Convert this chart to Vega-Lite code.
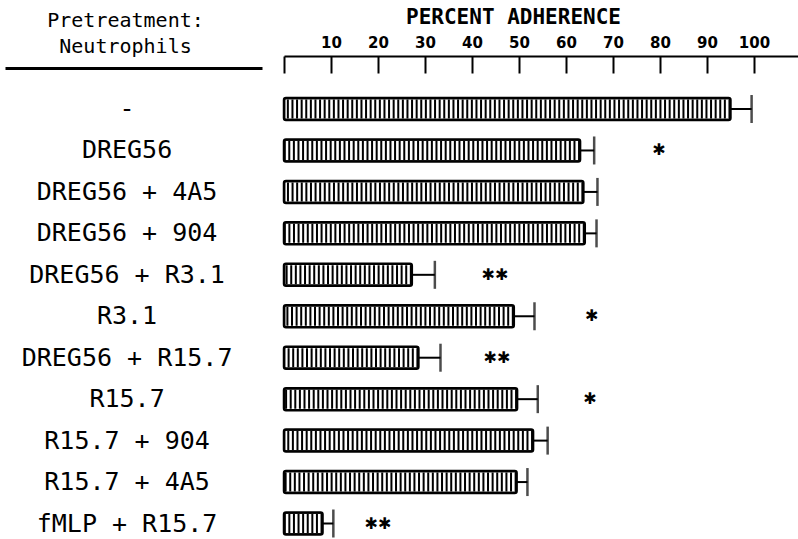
{
  "$schema": "https://vega.github.io/schema/vega-lite/v6.json",
  "padding": {"left": 5, "top": 6, "right": 0, "bottom": 0},
  "spacing": 12,
  "config": {"view": {"stroke": null}, "font": "DejaVu Sans Mono"},
  "data": {"values": [
    {"label": "-", "mean": 95.0, "upper": 99.5, "sig": null, "sigx": null},
    {"label": "DREG56", "mean": 63.0, "upper": 66.0, "sig": "✱", "sigx": 79.8},
    {"label": "DREG56 + 4A5", "mean": 63.7, "upper": 66.7, "sig": null, "sigx": null},
    {"label": "DREG56 + 904", "mean": 64.0, "upper": 66.5, "sig": null, "sigx": null},
    {"label": "DREG56 + R3.1", "mean": 27.2, "upper": 32.1, "sig": "✱✱", "sigx": 44.9},
    {"label": "R3.1", "mean": 48.9, "upper": 53.3, "sig": "✱", "sigx": 65.5},
    {"label": "DREG56 + R15.7", "mean": 28.6, "upper": 33.3, "sig": "✱✱", "sigx": 45.3},
    {"label": "R15.7", "mean": 49.6, "upper": 54.0, "sig": "✱", "sigx": 65.1},
    {"label": "R15.7 + 904", "mean": 53.0, "upper": 56.1, "sig": null, "sigx": null},
    {"label": "R15.7 + 4A5", "mean": 49.5, "upper": 51.8, "sig": null, "sigx": null},
    {"label": "fMLP + R15.7", "mean": 8.2, "upper": 10.5, "sig": "✱✱", "sigx": 20.0}
  ]},
  "hconcat": [
    {
      "width": 257,
      "height": 481,
      "mark": {"type": "text", "font": "DejaVu Sans Mono", "fontSize": 25, "align": "center", "baseline": "middle", "color": "black"},
      "encoding": {
        "y": {"field": "label", "type": "nominal", "sort": null, "scale": {"type": "band", "paddingInner": 0.469, "paddingOuter": 0.537, "align": 0.944}, "axis": null},
        "x": {"datum": 0.475, "type": "quantitative", "scale": {"domain": [0, 1], "nice": false},
          "axis": {"orient": "top", "domain": true, "domainWidth": 3, "domainColor": "black", "ticks": false, "labels": false, "grid": false, "offset": -12,
            "title": ["Pretreatment:", "Neutrophils"], "titleFont": "DejaVu Sans Mono", "titleFontSize": 20, "titleFontWeight": "normal", "titleColor": "black",
            "titleX": 120, "titleY": -42, "titleAlign": "center", "titleBaseline": "alphabetic", "titleLineHeight": 26, "titleAngle": 0}},
        "text": {"field": "label"}
      }
    },
    {
      "width": 524,
      "height": 481,
      "encoding": {
        "y": {"field": "label", "type": "nominal", "sort": null, "scale": {"type": "band", "paddingInner": 0.469, "paddingOuter": 0.537, "align": 0.944}, "axis": null}
      },
      "layer": [
        {
          "mark": {"type": "rule", "strokeWidth": 19, "strokeDash": [2, 2.6], "color": "black"},
          "encoding": {
            "x": {"field": "mean", "type": "quantitative", "scale": {"domain": [0, 111.5], "nice": false, "zero": true},
              "axis": {"orient": "top", "values": [0, 10, 20, 30, 40, 50, 60, 70, 80, 90, 100], "labelExpr": "datum.value == 0 ? '' : datum.label",
                "domainWidth": 2, "domainColor": "black", "tickColor": "black", "tickWidth": 2, "tickSize": -17,
                "labelFont": "DejaVu Sans", "labelFontWeight": "bold", "labelFontSize": 15, "labelColor": "black", "labelPadding": 23, "grid": false,
                "title": "PERCENT ADHERENCE", "titleFont": "DejaVu Sans Mono", "titleFontSize": 21, "titleFontWeight": "bold", "titleColor": "black",
                "titleX": 229, "titleY": -39, "titleBaseline": "middle", "titleAlign": "center"}},
            "x2": {"datum": 0}
          }
        },
        {
          "mark": {"type": "bar", "fillOpacity": 0, "stroke": "black", "strokeWidth": 2.5, "cornerRadius": 2},
          "encoding": {"x": {"field": "mean", "type": "quantitative"}}
        },
        {
          "mark": {"type": "rule", "strokeWidth": 2, "color": "black"},
          "encoding": {"x": {"field": "mean", "type": "quantitative"}, "x2": {"field": "upper"}}
        },
        {
          "mark": {"type": "tick", "size": 28, "thickness": 2.5, "color": "black"},
          "encoding": {"x": {"field": "upper", "type": "quantitative"}}
        },
        {
          "transform": [{"filter": "isValid(datum.sigx)"}],
          "mark": {"type": "text", "font": "DejaVu Sans", "fontSize": 16, "align": "center", "baseline": "middle", "color": "black"},
          "encoding": {"x": {"field": "sigx", "type": "quantitative"}, "text": {"field": "sig"}}
        }
      ]
    }
  ]
}
